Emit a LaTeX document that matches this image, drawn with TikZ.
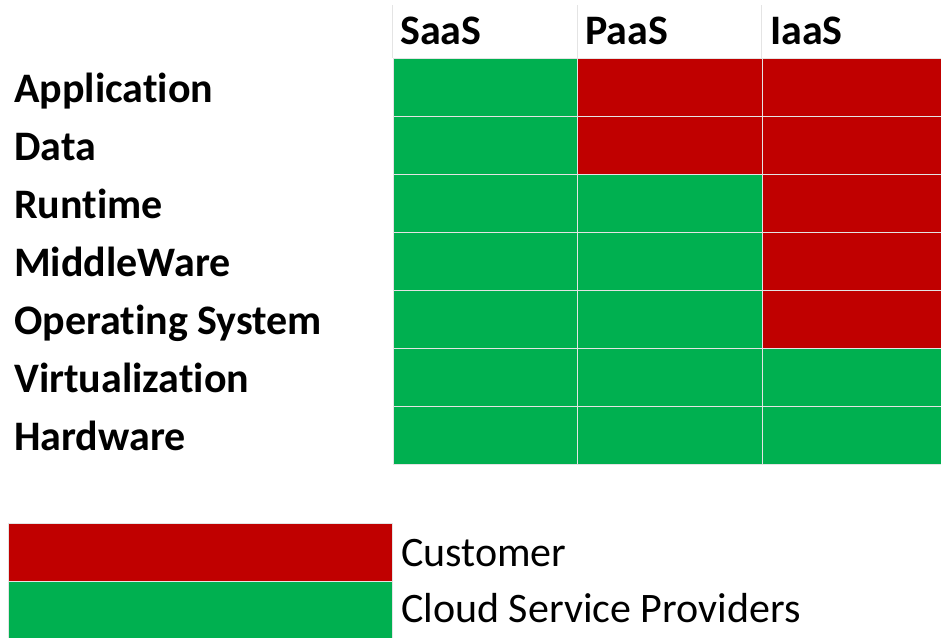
\documentclass[tikz,border=0pt]{standalone}
\usepackage{fontspec}
\setmainfont[Ligatures=NoCommon]{Carlito}
\definecolor{custred}{HTML}{C00000}
\definecolor{provgreen}{HTML}{00B050}
\definecolor{gridline}{HTML}{E4E4E4}
\tikzset{
  cell/.style={draw=gridline,line width=0.9pt,minimum width=184.5pt,minimum height=58pt,inner sep=0pt,anchor=north west},
  cust/.style={cell,fill=custred},
  prov/.style={cell,fill=provgreen},
  rowlabel/.style={anchor=base west,inner sep=0pt,font=\fontsize{42}{50}\selectfont\bfseries},
  collabel/.style={rowlabel},
  legendlabel/.style={anchor=base west,inner sep=0pt,font=\fontsize{42}{50}\selectfont}
}
\begin{document}
\begin{tikzpicture}[x=1pt,y=-1pt]
  \useasboundingbox (0,0) rectangle (941,637);
  \begin{scope}
    \clip (0,0) rectangle (941,637);
    % column headers
    \draw[gridline,line width=0.9pt] (392.5,5) -- (392.5,58) (577,5) -- (577,58) (761.5,5) -- (761.5,58);
    \node[collabel] (saas) at (400,44) {SaaS};
    \node[collabel] (paas) at (585,44) {PaaS};
    \node[collabel] (iaas) at (770,44) {IaaS};
    % SaaS column
    \node[prov] (s1) at (392.5,58) {};
    \node[prov] (s2) at (392.5,116) {};
    \node[prov] (s3) at (392.5,174) {};
    \node[prov] (s4) at (392.5,232) {};
    \node[prov] (s5) at (392.5,290) {};
    \node[prov] (s6) at (392.5,348) {};
    \node[prov] (s7) at (392.5,406) {};
    % PaaS column
    \node[cust] (p1) at (577,58) {};
    \node[cust] (p2) at (577,116) {};
    \node[prov] (p3) at (577,174) {};
    \node[prov] (p4) at (577,232) {};
    \node[prov] (p5) at (577,290) {};
    \node[prov] (p6) at (577,348) {};
    \node[prov] (p7) at (577,406) {};
    % IaaS column
    \node[cust] (i1) at (761.5,58) {};
    \node[cust] (i2) at (761.5,116) {};
    \node[cust] (i3) at (761.5,174) {};
    \node[cust] (i4) at (761.5,232) {};
    \node[cust] (i5) at (761.5,290) {};
    \node[prov] (i6) at (761.5,348) {};
    \node[prov] (i7) at (761.5,406) {};
  \end{scope}
  % row labels
  \node[rowlabel] (app) at (14,102) {Application};
  \node[rowlabel] (data) at (14,160) {Data};
  \node[rowlabel] (run) at (14,218) {Runtime};
  \node[rowlabel] (mid) at (14,276) {MiddleWare};
  \node[rowlabel] (os) at (14,334) {Operating System};
  \node[rowlabel] (virt) at (14,392) {Virtualization};
  \node[rowlabel] (hw) at (14,450) {Hardware};
  % legend
  \node[cust,minimum width=383.5pt,minimum height=57.5pt] (custbox) at (8,523) {};
  \node[prov,minimum width=383.5pt,minimum height=57pt] (provbox) at (8,580.5) {};
  \node[legendlabel] (custtext) at (401,566.5) {Customer};
  \node[legendlabel] (provtext) at (401,622) {Cloud Service Providers};
\end{tikzpicture}
\end{document}
